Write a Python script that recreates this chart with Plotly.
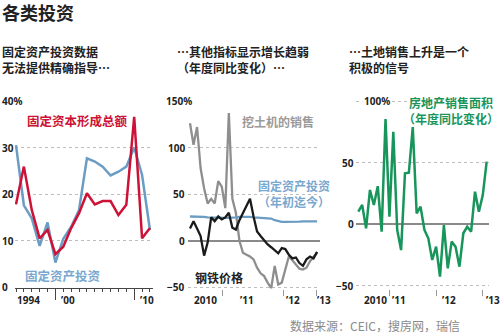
import plotly.graph_objects as go

# ---------------- data ----------------
P1_YEARS = list(range(1994, 2012))
P1_GFCF = [17.8, 25.9, 16.6, 10.5, 12.3, 7.1, 8.7, 12.7, 15.9, 20.2, 17.8, 18.5, 18.5, 15.5, 17.7, 36.6, 10.5, 12.7]
P1_FAI = [30.5, 17.6, 14.8, 8.9, 13.9, 5.3, 10.4, 13.0, 16.6, 27.7, 27.0, 25.9, 24.0, 24.8, 25.9, 30.0, 24.1, 12.3]

P2_MONTHS = list(range(37))
P2_EXCAV = [126, 103, 122, 78, 56, 40, 45, 40, 64, 58, 35, 137, 45, 30, 0, -13, -15, -17, -20, -29,
            -35, -38, -45, -51, -27, -47, -45, -31, -17, -21, -25, -30, -31, -29, -22, -17, -13]
P2_STEEL = [13, 21, 13, 5, -16, -2, 25, 21, 26, 23, 25, 30, 14, 12, 22, 30, 38, 45, 26, 10,
            5, 0, -4, -7, -10, -13.5, -8, -9, -15, -19, -18, -24, -27, -20, -17, -19, -12]
P2_FAI = [26, 26, 26, 25.5, 25.5, 25, 24.8, 24.5, 24.5, 24.5, 24.5, 24.5, 24.5, 25, 25.5, 25.6, 25.8, 25.5, 25, 24.9,
          24.5, 24.5, 24, 23.8, 22, 21, 20.3, 20.2, 20.1, 20.2, 20.2, 20.5, 20.7, 20.8, 20.8, 20.7, 20.7]

P3_MONTHS = list(range(34))
P3_PROPERTY = [10.2, 15.7, -3.3, 27.9, 15.7, 31, -6, 85.7, 6.2, 75.3, -4.6, -21, 41.5, 42, 79, 8.9, 14.3,
               -4.6, -11.4, -29, -18.2, -42.6, -0.6, -35.8, -14.1, -18.2, -34.5, -7.3, -2, -6, 26.5, 10.2, 23.8, 50.9]

P1_YTICKS = [0, 10, 20, 30, 40]
P1_YTEXT = ["0", "10", "20", "30", "40%"]
P2_YTICKS = [-50, 0, 50, 100, 150]
P2_YTEXT = ["\u221250", "0", "50", "100", "150%"]
P3_YTICKS = [-50, 0, 50, 100]
P3_YTEXT = ["\u221250", "0", "50", "100%"]

P1_XTEXT = ["1994", "\u201900", "\u201910"]
P1_XLABELPOS = [1993.9, 1999.46, 2009.48]
P1_MAJORTICKS = [1999, 2009]
P2_XTEXT = ["2010", "\u201911", "\u201912", "\u201913"]
P2_XLABELPOS = [0.6, 13.6, 26.6, 35.4]
P2_TICKS = [9.3, 26.6, 35.7]
P3_XTEXT = ["2010", "\u201911", "\u201912", "\u201913"]
P3_XLABELPOS = [0.95, 8.15, 21.0, 32.4]
P3_TICKS = [8, 20, 32]

# ---------------- style ----------------
W, H = 500, 333
FONT = "Noto Sans CJK SC"
NUMFONT = "Noto Sans"
RED = "#cc1236"
BLUE = "#6b9dc4"
BLUE_LBL = "#79a8cf"
GRAY = "#8e8e8e"
BLACK = "#1b1b1b"
GREEN = "#17955a"
GRID = "#bdbdbd"


def px(x):
    return x / W


def py(y):
    return 1 - y / H


fig = go.Figure()
fig.add_trace(go.Scatter(x=P1_YEARS, y=P1_FAI, mode="lines", line=dict(color=BLUE, width=2.5),
                         xaxis="x", yaxis="y"))
fig.add_trace(go.Scatter(x=P1_YEARS, y=P1_GFCF, mode="lines", line=dict(color=RED, width=2.5),
                         xaxis="x", yaxis="y"))
fig.add_trace(go.Scatter(x=P2_MONTHS, y=P2_EXCAV, mode="lines", line=dict(color=GRAY, width=2.3),
                         xaxis="x2", yaxis="y2"))
fig.add_trace(go.Scatter(x=P2_MONTHS, y=P2_FAI, mode="lines", line=dict(color=BLUE, width=2.3),
                         xaxis="x2", yaxis="y2"))
fig.add_trace(go.Scatter(x=P2_MONTHS, y=P2_STEEL, mode="lines", line=dict(color=BLACK, width=2.3),
                         xaxis="x2", yaxis="y2"))
fig.add_trace(go.Scatter(x=P3_MONTHS, y=P3_PROPERTY, mode="lines", line=dict(color=GREEN, width=2.5),
                         xaxis="x3", yaxis="y3"))

common_y = dict(showgrid=True, gridcolor=GRID, griddash="dot", gridwidth=1,
                showticklabels=False, ticks="", showline=False, fixedrange=True)

layout = dict(
    width=W, height=H, margin=dict(l=0, r=0, t=0, b=0),
    paper_bgcolor="white", plot_bgcolor="white", showlegend=False,
    font=dict(family=FONT, size=11, color="#222"),
    xaxis=dict(domain=[px(15), px(153)], range=[1993.873, 2011.386], anchor="y",
               showgrid=False, zeroline=False, showline=True, linecolor="#444", linewidth=1,
               ticks="outside", tickmode="array", tickvals=P1_MAJORTICKS, ticklen=11,
               tickcolor="#444", tickwidth=1, showticklabels=False,
               minor=dict(tickmode="array", tickvals=P1_YEARS, ticklen=3, tickcolor="#444",
                          tickwidth=1, showgrid=False)),
    yaxis=dict(domain=[py(287.5), py(100)], range=[-0.05, 40.2], anchor="x",
               tickmode="array", tickvals=P1_YTICKS[1:], zeroline=False, **common_y),
    xaxis2=dict(domain=[px(188), px(320)], range=[-0.567, 36.83], anchor="y2",
                showgrid=False, zeroline=False, showline=False,
                ticks="outside", tickmode="array", tickvals=P2_TICKS, ticklen=6,
                tickcolor="#999", tickwidth=1, showticklabels=False),
    yaxis2=dict(domain=[py(288.7), py(100)], range=[-51.5, 151.0], anchor="x2",
                tickmode="array", tickvals=[v for v in P2_YTICKS if v != 0],
                zeroline=True, zerolinecolor="#8a8a8a", zerolinewidth=1.5, **common_y),
    xaxis3=dict(domain=[px(356), px(489)], range=[-0.591, 33.6], anchor="y3",
                showgrid=False, zeroline=False, showline=False,
                ticks="outside", tickmode="array", tickvals=P3_TICKS, ticklen=6,
                tickcolor="#999", tickwidth=1, showticklabels=False),
    yaxis3=dict(domain=[py(288.7), py(100)], range=[-52.4, 101.1], anchor="x3",
                tickmode="array", tickvals=[v for v in P3_YTICKS if v != 0],
                zeroline=True, zerolinecolor="#8a8a8a", zerolinewidth=1.5, **common_y),
)
fig.update_layout(**layout)

ann = []


def add(text, x, y, xref="paper", yref="paper", size=12, color="#222", xanchor="left",
        yanchor="middle", align="left", bg=None, family=FONT):
    d = dict(text=text, x=x, y=y, xref=xref, yref=yref, showarrow=False,
             font=dict(family=family, size=size, color=color), xanchor=xanchor,
             yanchor=yanchor, align=align)
    if bg:
        d["bgcolor"] = bg
    ann.append(d)


# title and subtitles
add("<b>各类投资</b>", px(0), py(12), size=18, color="#222")
add("<b>固定资产投资数据<br>无法提供精确指导…</b>", px(0), py(60), size=12)
add("<b>…其他指标显示增长趋弱<br>（年度同比变化）…</b>", px(175), py(60), size=12)
add("<b>…土地销售上升是一个<br>积极的信号</b>", px(347), py(60), size=12)

# series labels
add("<b>固定资本形成总额</b>", px(25), py(120), size=12.5, color=RED)
add("<b>固定资产投资</b>", px(23), py(275), size=12.5, color=BLUE_LBL)
add("<b>挖土机的销售</b>", px(240), py(121), size=12, color="#9a9a9a")
add("<b>固定资产投资<br>（年初迄今）</b>", px(294), py(193.5), size=12, color=BLUE_LBL,
    xanchor="center", align="center")
add("<b>钢铁价格</b>", px(193), py(277.5), size=12, color="#222")
add("<b>房地产销售面积<br>（年度同比变化）</b>", px(451), py(110.5), size=12, color=GREEN,
    xanchor="center", align="center")

# source
add("数据来源：CEIC，搜房网，瑞信", px(288), py(325.5), size=12, color="#8a8a8a")

# y tick labels
for v, t in zip(P1_YTICKS, P1_YTEXT):
    add("<b>%s</b>" % t, px(0), v, yref="y", size=10, bg="white" if "%" in t else None,
        family=NUMFONT)
for v, t in zip(P2_YTICKS, P2_YTEXT):
    if "%" in t:
        add("<b>%s</b>" % t, px(194), v, yref="y2", size=10, xanchor="right", bg="white",
            family=NUMFONT)
    else:
        add("<b>%s</b>" % t, px(187), v, yref="y2", size=10, xanchor="right", family=NUMFONT)
for v, t in zip(P3_YTICKS, P3_YTEXT):
    if "%" in t:
        add("<b>%s</b>" % t, px(362), v, yref="y3", size=10, xanchor="left", bg="white",
            family=NUMFONT)
    else:
        add("<b>%s</b>" % t, px(356), v, yref="y3", size=10, xanchor="right", family=NUMFONT)

# x tick labels
for v, t in zip(P1_XLABELPOS, P1_XTEXT):
    add("<b>%s</b>" % t, v, py(300), xref="x", size=10, family=NUMFONT)
for v, t in zip(P2_XLABELPOS, P2_XTEXT):
    add("<b>%s</b>" % t, v, py(300), xref="x2", size=10, family=NUMFONT)
for v, t in zip(P3_XLABELPOS, P3_XTEXT):
    add("<b>%s</b>" % t, v, py(300), xref="x3", size=10, family=NUMFONT)

fig.update_layout(annotations=ann)
fig.write_html("out.html")
